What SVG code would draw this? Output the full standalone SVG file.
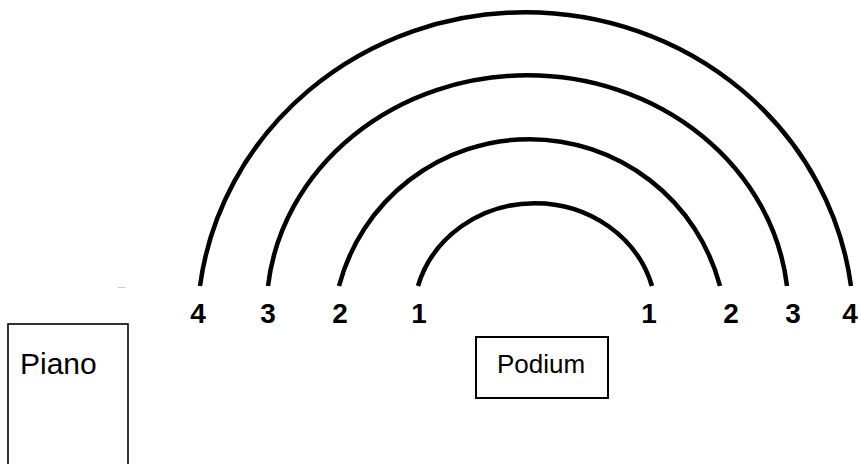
<svg xmlns="http://www.w3.org/2000/svg" width="859" height="464" viewBox="0 0 859 464">
  <style>
    .arc { fill: none; stroke: #000; stroke-width: 4.5; }
    .num { font-family: "Liberation Sans", Arial, sans-serif; font-weight: bold; font-size: 28px; fill: #000; text-anchor: middle; }
    .box { fill: #fff; stroke: #000; }
    .lbl { font-family: "Liberation Sans", Arial, sans-serif; fill: #000; }
  </style>
  <rect width="859" height="464" fill="#fff"/>
  <g id="connectors">
    <path id="arc1" class="arc" d="M418,286 A121.4,113 0 0 1 652,286"/>
    <path id="arc2" class="arc" d="M339,286 A197,197 0 0 1 720,286"/>
    <path id="arc3" class="arc" d="M268,286 A261,236 0 0 1 787,286"/>
    <path id="arc4" class="arc" d="M200,286 A328.2,314 0 0 1 851,286"/>
  </g>
  <line x1="118" y1="287.5" x2="125" y2="287.5" stroke="#c8c8c8" stroke-width="1"/>
  <g id="labels">
    <text class="num" x="198" y="323">4</text>
    <text class="num" x="268" y="323">3</text>
    <text class="num" x="340" y="323">2</text>
    <text class="num" x="419" y="323">1</text>
    <text class="num" x="649" y="323">1</text>
    <text class="num" x="731" y="323">2</text>
    <text class="num" x="793" y="323">3</text>
    <text class="num" x="850" y="323">4</text>
  </g>
  <g id="piano">
    <rect class="box" x="8" y="324" width="120" height="150" stroke-width="1.6"/>
    <text class="lbl" x="20" y="374" font-size="30">Piano</text>
  </g>
  <g id="podium">
    <rect class="box" x="476" y="337" width="132" height="61" stroke-width="2"/>
    <text class="lbl" x="497" y="373" font-size="26">Podium</text>
  </g>
</svg>
